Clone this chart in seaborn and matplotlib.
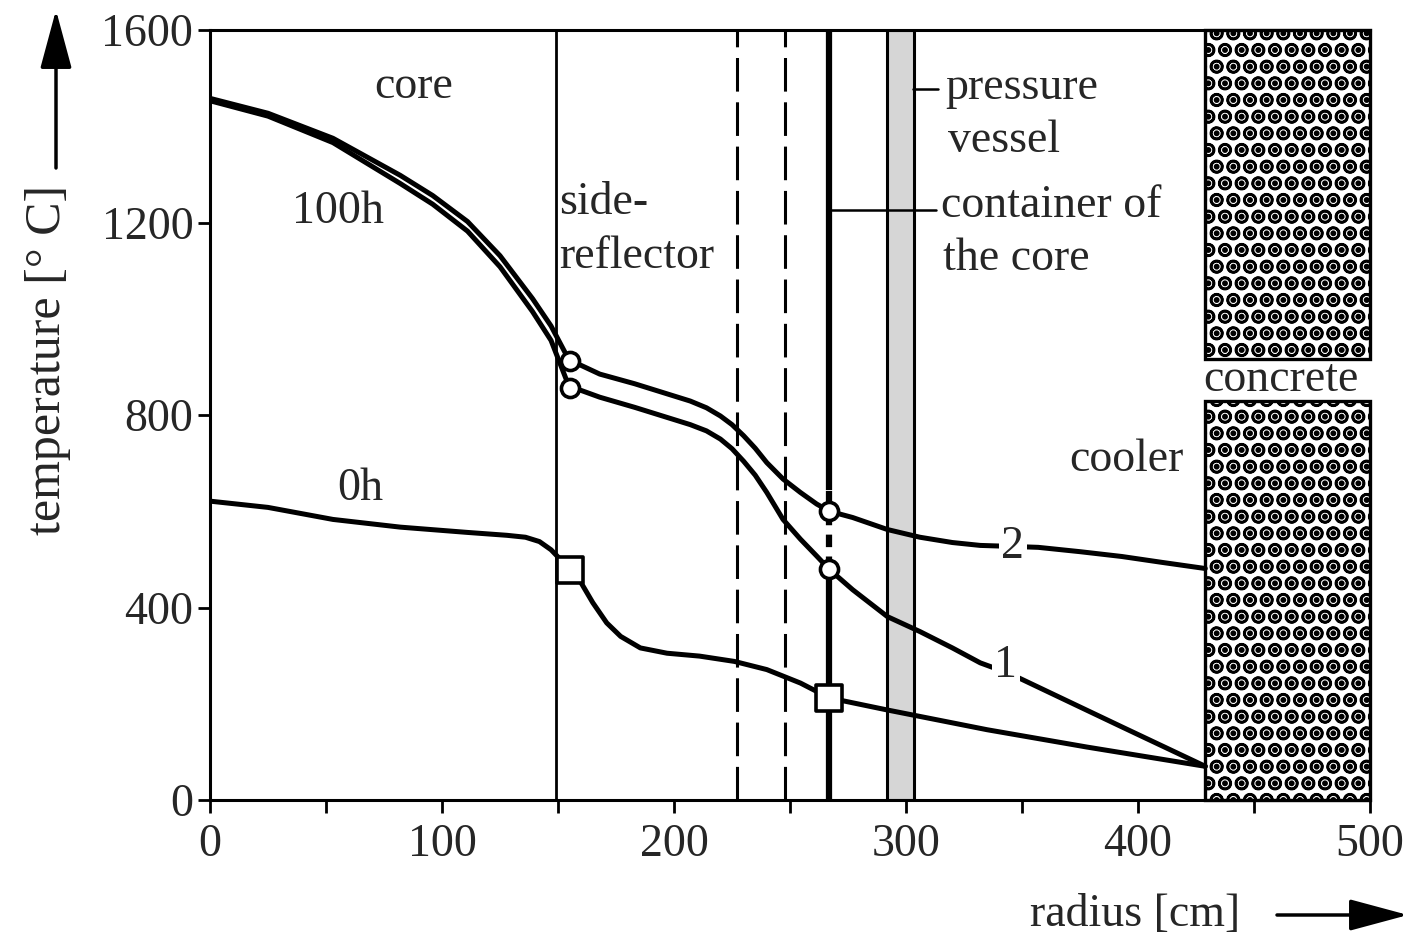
import matplotlib
matplotlib.use("Agg")
import matplotlib.pyplot as plt
from matplotlib.patches import Rectangle
import pandas as pd
import seaborn as sns

# ---- temperature profiles across the reactor radius ----
# curve "2" (100 h, upper branch)
radius_2 = [0, 25, 53, 82, 96, 111, 125, 139, 147, 155, 160, 168, 183, 197, 207,
            214, 220, 225, 230, 235, 240, 247, 254.5, 261.5, 267, 277, 292, 306, 320,
            332, 345, 357, 375, 393, 410, 429]
temp_2 = [1458, 1427, 1375, 1298, 1256, 1202, 1131, 1042, 985, 912, 903, 885, 865,
          844, 829, 815, 798, 780, 757, 731, 701, 667, 639, 615, 600, 587, 562, 546,
          535, 529, 527, 525, 516, 506, 494, 481]

# curve "1" (100 h, lower branch)
radius_1 = [0, 25, 53, 82, 96, 111, 125, 139, 147, 155, 160, 168, 183, 197, 207,
            214, 220, 225, 230, 235, 240, 247, 254.5, 261.5, 267, 277, 292, 306, 320,
            332, 345, 352, 393, 429]
temp_1 = [1453, 1421, 1366, 1281, 1238, 1182, 1108, 1015, 955, 856, 851, 837, 816,
          795, 780, 767, 750, 730, 704, 675, 639, 583, 542, 507, 479, 437, 381, 350,
          316, 285, 262, 246, 152, 70]

# curve "0h" (steady state)
radius_0h = [0, 25, 53, 82, 111, 128, 136, 142, 147, 151, 155, 160, 165, 171, 177,
             185.5, 197, 211, 226, 240, 254.5, 267, 292, 335, 378, 429]
temp_0h = [621, 608, 583, 567, 556, 550, 546, 537, 520, 500, 478, 451, 410, 368, 340,
           316, 305, 299, 288, 271, 243, 212, 187, 146, 110, 70]

# marked points at the reflector and core-container boundaries
circle_r = [155, 267, 155, 267]
circle_t = [912, 600, 856, 479]
square_r = [155, 267]
square_t = [478, 212]

x_ticks = [0, 100, 200, 300, 400, 500]
x_minor = [50, 150, 250, 350, 450]
y_ticks = [0, 400, 800, 1200, 1600]

# structure boundaries [cm]
reflector_edge = 149
dashed_edges = [227, 248]
container_edge = 267
vessel_span = (292, 303.5)
concrete_start = 429
concrete_gap = (829, 917)

sns.set_theme(style="ticks")
plt.rcParams["font.family"] = ["Liberation Serif", "DejaVu Serif"]
plt.rcParams["hatch.linewidth"] = 1.8

W, H = 1410, 948
fig = plt.figure(figsize=(W / 100, H / 100), dpi=100)
ax = fig.add_axes([210 / W, 1 - 800 / H, 1160 / W, 770 / H])

ink = "black"
fs = 33

# structural regions
ax.axvline(reflector_edge, color=ink, lw=2.0, zorder=1)
for xd in dashed_edges:
    ax.axvline(xd, color=ink, lw=2.2, ls=(0, (11, 3.5)), zorder=1)
ax.plot([container_edge, container_edge], [645, 1600], color=ink, lw=4.5, zorder=1,
        solid_capstyle="butt")
ax.plot([container_edge, container_edge], [480, 645], color=ink, lw=4.5, zorder=1,
        ls=(0, (2, 1.5)))
ax.plot([container_edge, container_edge], [0, 480], color=ink, lw=4.5, zorder=1,
        solid_capstyle="butt")
ax.add_patch(Rectangle((vessel_span[0], 0), vessel_span[1] - vessel_span[0], 1600,
                       facecolor="#d6d6d6", edgecolor=ink, lw=2.2, zorder=1))
for y0, y1 in [(0, concrete_gap[0]), (concrete_gap[1], 1600)]:
    ax.add_patch(Rectangle((concrete_start, y0), 500 - concrete_start, y1 - y0,
                           facecolor="white", edgecolor=ink, lw=2.4, hatch="O.",
                           zorder=1, clip_on=False))

# curves
df = pd.concat([
    pd.DataFrame({"radius": radius_2, "temp": temp_2, "curve": "2"}),
    pd.DataFrame({"radius": radius_1, "temp": temp_1, "curve": "1"}),
    pd.DataFrame({"radius": radius_0h, "temp": temp_0h, "curve": "0h"}),
])
sns.lineplot(data=df, x="radius", y="temp", hue="curve",
             palette={"2": ink, "1": ink, "0h": ink}, sort=False, estimator=None,
             lw=3.6, legend=False, ax=ax, zorder=3)
sns.scatterplot(x=circle_r, y=circle_t, marker="o", s=170, color="white",
                edgecolor=ink, linewidth=2.6, ax=ax, zorder=5)
sns.scatterplot(x=square_r, y=square_t, marker="s", s=330, color="white",
                edgecolor=ink, linewidth=2.6, ax=ax, zorder=5)

# labels inside the plot
ax.text(88, 1482, "core", fontsize=fs, ha="center", va="center")
ax.text(55, 1223, "100h", fontsize=fs, ha="center", va="center")
ax.text(65, 646, "0h", fontsize=fs, ha="center", va="center")
ax.text(150.5, 1240, "side-", fontsize=fs, ha="left", va="center")
ax.text(150.5, 1129, "reflector", fontsize=fs, ha="left", va="center")
ax.text(317, 1479, "pressure", fontsize=fs, ha="left", va="center")
ax.text(318, 1369, "vessel", fontsize=fs, ha="left", va="center")
ax.text(315, 1235, "container of", fontsize=fs, ha="left", va="center")
ax.text(316, 1125, "the core", fontsize=fs, ha="left", va="center")
ax.text(395, 708, "cooler", fontsize=fs, ha="center", va="center")
ax.text(461.5, 873, "concrete", fontsize=fs, ha="center", va="center")
ax.text(346, 527, "2", fontsize=fs, ha="center", va="center", zorder=4,
        bbox=dict(fc="white", ec="none", pad=2))
ax.text(343, 279, "1", fontsize=fs, ha="center", va="center", zorder=4,
        bbox=dict(fc="white", ec="none", pad=2))
ax.plot([303, 314], [1477, 1477], color=ink, lw=1.8, zorder=2)
ax.plot([container_edge, 313], [1225, 1225], color=ink, lw=1.8, zorder=2)

# axes
ax.set_xlim(0, 500)
ax.set_ylim(0, 1600)
ax.set_xticks(x_ticks)
ax.set_xticks(x_minor, minor=True)
ax.set_yticks(y_ticks)
ax.set_xticklabels([str(v) for v in x_ticks], fontsize=fs)
ax.set_yticklabels([str(v) for v in y_ticks], fontsize=fs)
ax.tick_params(axis="x", which="both", direction="out", length=9, width=2,
               color=ink, pad=8)
ax.tick_params(axis="y", direction="out", length=9, width=2, color=ink, pad=3)
ax.set_xlabel("")
ax.set_ylabel("")
for side in ["left", "bottom", "top"]:
    ax.spines[side].set_linewidth(2.2)
    ax.spines[side].set_color(ink)
ax.spines["right"].set_visible(False)

# axis titles with arrows
fig.text(48 / W, 1 - 360 / H, "temperature [° C]", fontsize=36, rotation=90,
         ha="center", va="center")
ax.annotate("", xy=(56, H - 10), xycoords="figure pixels",
            xytext=(56, H - 168), textcoords="figure pixels",
            arrowprops=dict(arrowstyle="-|>,head_length=1.3,head_width=0.35",
                            lw=2.5, color=ink, mutation_scale=28, shrinkA=0, shrinkB=0),
            annotation_clip=False)
fig.text(1135 / W, 1 - 915 / H, "radius [cm]", fontsize=fs, ha="center", va="center")
ax.annotate("", xy=(1408, H - 915), xycoords="figure pixels",
            xytext=(1277, H - 915), textcoords="figure pixels",
            arrowprops=dict(arrowstyle="-|>,head_length=1.3,head_width=0.35",
                            lw=2.5, color=ink, mutation_scale=28, shrinkA=0, shrinkB=0),
            annotation_clip=False)

fig.savefig("out.png", dpi=100, facecolor="white")
